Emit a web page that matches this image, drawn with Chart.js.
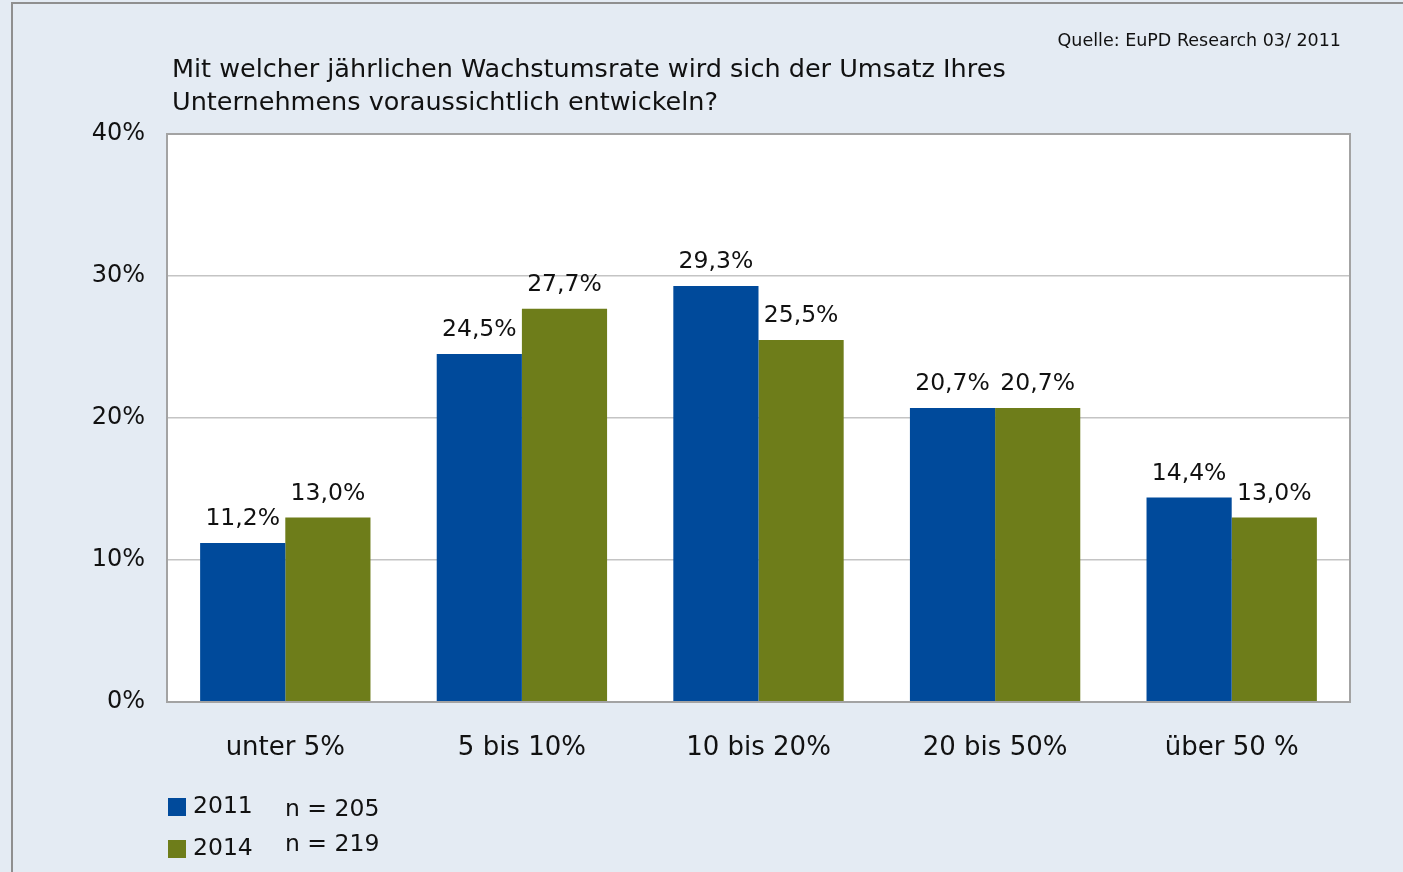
<!DOCTYPE html>
<html>
<head>
<meta charset="utf-8">
<script src="https://cdn.jsdelivr.net/npm/chart.js@4"></script>
<style>
  html, body { margin: 0; padding: 0; background: #e4ebf3; }
  #wrap { width: 1403px; height: 872px; position: relative; }
</style>
</head>
<body>
<div id="wrap"><canvas id="growthChart" width="1403" height="872"></canvas></div>
<script>
const categories = ['unter 5%', '5 bis 10%', '10 bis 20%', '20 bis 50%', 'über 50 %']
const values2011 = [11.2, 24.5, 29.3, 20.7, 14.4]
const values2014 = [13.0, 27.7, 25.5, 20.7, 13.0]
const seriesNames = ['2011', '2014']
const sampleSizes = ['n = 205', 'n = 219']
const titleLines = ['Mit welcher jährlichen Wachstumsrate wird sich der Umsatz Ihres', 'Unternehmens voraussichtlich entwickeln?']
const sourceText = 'Quelle: EuPD Research 03/ 2011'

const blue = '#004a9b'
const green = '#6e7d1a'
const font = '"DejaVu Sans", "Noto Sans", sans-serif'

const fmt = v => v.toFixed(1).replace('.', ',') + '%'

// background, frame, white plot area, title, source, legend
const decor = {
    id: 'decor',
    beforeDraw(chart) {
        const c = chart.ctx
        const a = chart.chartArea
        c.save()
        c.fillStyle = '#e4ebf3'
        c.fillRect(0, 0, chart.width, chart.height)
        c.strokeStyle = '#8f8f8f'
        c.lineWidth = 2
        c.beginPath()
        c.moveTo(12, chart.height)
        c.lineTo(12, 3)
        c.lineTo(chart.width, 3)
        c.stroke()
        c.fillStyle = '#ffffff'
        c.fillRect(a.left, a.top, a.right - a.left, a.bottom - a.top)
        c.restore()
    },
    afterDraw(chart) {
        const c = chart.ctx
        const a = chart.chartArea
        c.save()
        c.strokeStyle = '#a3a3a3'
        c.lineWidth = 2
        c.strokeRect(a.left, a.top, a.right - a.left, a.bottom - a.top)

        c.fillStyle = '#111'
        c.textBaseline = 'middle'
        c.textAlign = 'left'
        c.font = '25.5px ' + font
        c.fillText(titleLines[0], 172, 70)
        c.fillText(titleLines[1], 172, 103)

        c.textAlign = 'right'
        c.font = '17.5px ' + font
        c.fillText(sourceText, 1341, 41)

        c.textAlign = 'left'
        c.font = '23.5px ' + font
        const cols = [blue, green]
        const rowsY = [807, 849]
        const nY = [810, 845]
        for (let i = 0; i < 2; i++) {
            c.fillStyle = cols[i]
            c.fillRect(168, rowsY[i] - 9, 18, 18)
            c.fillStyle = '#111'
            c.fillText(seriesNames[i], 193, rowsY[i])
            c.fillText(sampleSizes[i], 285, nY[i])
        }
        c.restore()
    },
    afterDatasetsDraw(chart) {
        const c = chart.ctx
        c.save()
        c.fillStyle = '#111'
        c.font = '23.5px ' + font
        c.textAlign = 'center'
        c.textBaseline = 'bottom'
        chart.data.datasets.forEach((ds, di) => {
            chart.getDatasetMeta(di).data.forEach((bar, i) => {
                c.fillText(fmt(ds.data[i]), bar.x, bar.y - 12)
            })
        })
        c.restore()
    }
}

new Chart(document.getElementById('growthChart'), {
    type: 'bar',
    data: {
        labels: categories,
        datasets: [
            { label: seriesNames[0], data: values2011, backgroundColor: blue },
            { label: seriesNames[1], data: values2014, backgroundColor: green }
        ]
    },
    options: {
        responsive: false,
        animation: false,
        devicePixelRatio: 1,
        layout: { padding: { top: 134, right: 53, left: 0, bottom: 0 } },
        categoryPercentage: 0.72,
        barPercentage: 1,
        plugins: {
            legend: { display: false },
            tooltip: { enabled: false }
        },
        scales: {
            x: {
                grid: { display: false },
                border: { display: false },
                ticks: {
                    color: '#111',
                    font: { family: font, size: 26 },
                    padding: 23
                },
                afterFit(scale) { scale.height = 170 }
            },
            y: {
                min: 0,
                max: 40,
                grid: { color: '#c4c4c4', lineWidth: 1.5, drawTicks: false },
                border: { display: false },
                ticks: {
                    stepSize: 10,
                    color: '#111',
                    font: { family: font, size: 24 },
                    padding: 22,
                    callback: v => v + '%'
                },
                afterFit(scale) { scale.width = 167 }
            }
        }
    },
    plugins: [decor]
})
</script>
</body>
</html>
